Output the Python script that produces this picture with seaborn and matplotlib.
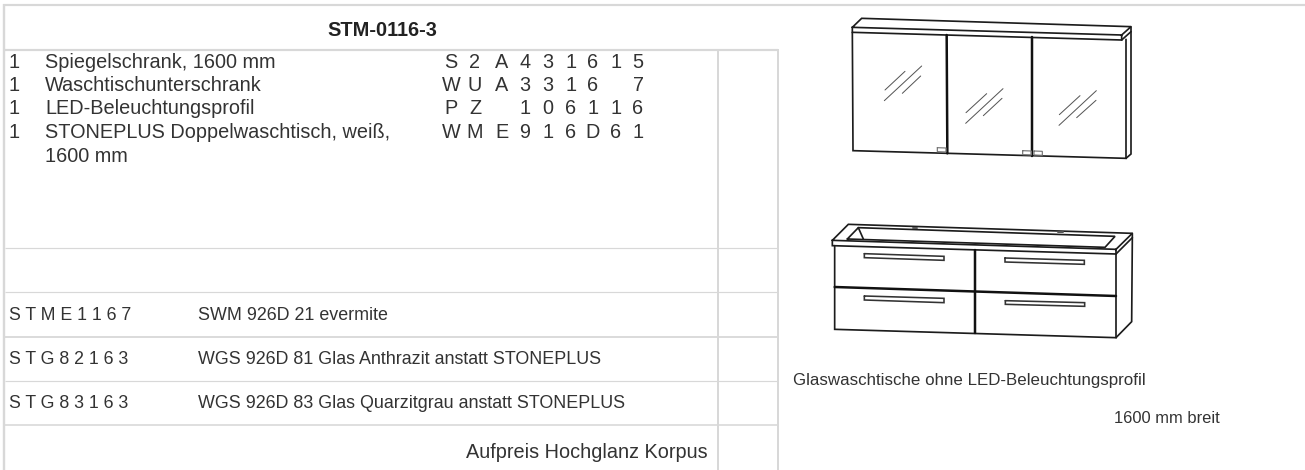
import matplotlib
matplotlib.use("Agg")
import matplotlib.pyplot as plt
import seaborn as sns

sns.set_theme(style="white", rc={"font.family": ["Liberation Sans", "DejaVu Sans"]})

TITLE = "STM-0116-3"
QTY = ["1", "1", "1", "1"]
ITEMS = ["Spiegelschrank, 1600 mm", "Waschtischunterschrank", "LED-Beleuchtungsprofil",
         "STONEPLUS Doppelwaschtisch, weiß,", "1600 mm"]
CODES = ["S2A431615", "WUA3316 7", "PZ 106116", "WME916D61"]
OPT_CODES = ["S T M E 1 1 6 7", "S T G 8 2 1 6 3", "S T G 8 3 1 6 3"]
OPT_TEXT = ["SWM 926D 21 evermite", "WGS 926D 81 Glas Anthrazit anstatt STONEPLUS",
            "WGS 926D 83 Glas Quarzitgrau anstatt STONEPLUS"]
SURCHARGE = "Aufpreis Hochglanz Korpus"
NOTE = "Glaswaschtische ohne LED-Beleuchtungsprofil"
WIDTH = "1600 mm breit"

GRID = "#d8d8d8"
INK = "#333333"
LINE = "#1c1c1c"

# table rules: (x0, y0, x1, y1, width in pixels)
table_rules = [
    (3, 4.5, 1305, 4.5, 2.2), (4, 4, 4, 470, 2.4), (4, 49.5, 778, 49.5, 2.2),
    (717.7, 50, 717.7, 470, 2.0), (778, 49, 778, 470, 2.0),
    (5, 247.5, 778, 247.5, 1.2), (5, 292.3, 778, 292.3, 1.2), (5, 337, 778, 337, 1.8),
    (5, 381.3, 778, 381.3, 1.2), (5, 424.7, 778, 424.7, 1.6),
]

# mirror cabinet outlines, zoom-crop coordinates of the drawing
cab_thin = [
    [(97, 82), (125, 55), (933, 80), (905, 105), (97, 82), (97, 97), (905, 120), (905, 105)],
    [(933, 80), (933, 95), (905, 120)],
    [(97, 97), (99, 452), (918, 475), (918, 118)],
    [(933, 95), (933, 462), (918, 475)],
]
cab_thick = [[(380, 105), (382, 460)], [(636, 112), (636, 468)]]
cab_handles = [
    [(352, 443), (378, 444), (378, 456), (352, 455), (352, 443)],
    [(608, 452), (634, 453), (634, 465), (608, 464), (608, 452)],
    [(642, 453), (667, 454), (667, 466), (642, 465), (642, 453)],
]
cab_glass = [
    [(195, 270), (255, 214)], [(193, 302), (305, 198)], [(247, 280), (302, 228)],
    [(438, 338), (500, 281)], [(437, 370), (549, 266)], [(490, 347), (546, 295)],
    [(718, 344), (780, 287)], [(717, 376), (829, 272)], [(770, 353), (828, 301)],
]

# vanity unit outlines, zoom-crop coordinates of the drawing
van_thin = [
    [(37, 76), (85, 28), (937, 55), (888, 103), (37, 76), (37, 92), (888, 117), (888, 103)],
    [(937, 55), (937, 68), (888, 117)],
    [(82, 72), (115, 38), (885, 64), (855, 97), (82, 72)],
    [(115, 38), (130, 72)],
    [(44, 92), (44, 343), (888, 368), (888, 117)],
    [(937, 68), (935, 320), (888, 368)],
]
van_marks = [[(278, 39), (292, 39)], [(715, 52), (729, 52)]]
van_thick = [[(465, 105), (465, 355)], [(44, 216), (888, 243)]]
van_handles = [
    [(133, 116), (372, 124), (372, 136), (133, 128), (133, 116)],
    [(555, 129), (793, 136), (793, 148), (555, 141), (555, 129)],
    [(133, 243), (372, 250), (372, 263), (133, 255), (133, 243)],
    [(556, 257), (794, 263), (794, 274), (556, 268), (556, 257)],
]

CODE_COLS = [451, 475, 502, 525, 548, 571, 593, 616, 638]
ROW_BASE = [68, 91, 114.5, 138, 161.5]
OPT_BASE = [320, 364.3, 408.3]

fig = plt.figure(figsize=(13.05, 4.7), dpi=100)
ax = fig.add_axes([0, 0, 1, 1])
ax.set_xlim(0, 1305)
ax.set_ylim(470, 0)
ax.axis("off")
PT = 0.72


def stroke(points, ox, oy, width, color=LINE):
    xs = [ox + p[0] / 3 for p in points]
    ys = [oy + p[1] / 3 for p in points]
    sns.lineplot(x=xs, y=ys, ax=ax, sort=False, estimator=None, color=color,
                 linewidth=width * PT, legend=False, solid_joinstyle="miter",
                 solid_capstyle="round")


for x0, y0, x1, y1, w in table_rules:
    sns.lineplot(x=[x0, x1], y=[y0, y1], ax=ax, sort=False, estimator=None, color=GRID,
                 linewidth=w * PT, legend=False, solid_capstyle="butt")

for shape in cab_thin:
    stroke(shape, 820, 0, 1.7)
for shape in cab_thick:
    stroke(shape, 820, 0, 2.5, "#111111")
for shape in cab_handles:
    stroke(shape, 820, 0, 1.2, "#777777")
for shape in cab_glass:
    stroke(shape, 820, 0, 1.0, "#555555")
for shape in van_thin:
    stroke(shape, 820, 215, 1.7)
for shape in van_marks:
    stroke(shape, 820, 215, 2.0, "#555555")
for shape in van_thick:
    stroke(shape, 820, 215, 2.5, "#111111")
for shape in van_handles:
    stroke(shape, 820, 215, 1.6, "#333333")


def label(x, y, s, px=19.9, ha="left", color=INK, **kw):
    ax.text(x, y, s, fontsize=px * PT, ha=ha, va="baseline", color=color, **kw)


label(382, 36.5, TITLE, px=20, ha="center", color="#222222", fontweight="bold")
for y, q in zip(ROW_BASE, QTY):
    label(8, y, q)
for y, s in zip(ROW_BASE, ITEMS):
    label(45, y, s)
for y, code in zip(ROW_BASE, CODES):
    for x, ch in zip(CODE_COLS, code):
        if ch != " ":
            label(x, y, ch, ha="center")
for y, code, s in zip(OPT_BASE, OPT_CODES, OPT_TEXT):
    label(9, y, code, px=17.7)
    label(198, y, s, px=17.9)
label(708, 458.3, SURCHARGE, ha="right")
label(793, 384.5, NOTE, px=16.9)
label(1220, 423, WIDTH, px=16.5, ha="right")

fig.savefig("out.png", dpi=100)
